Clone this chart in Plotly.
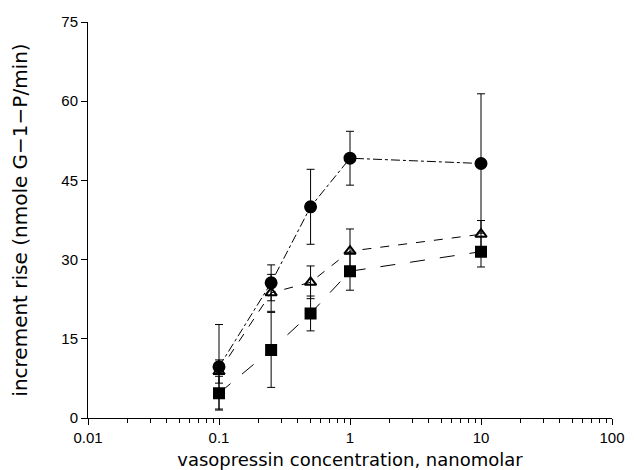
import plotly.graph_objects as go

conc = [0.1, 0.25, 0.5, 1, 10]

circle_y = [9.7, 25.6, 40.0, 49.2, 48.2]
circle_err = [8.0, 3.4, 7.1, 5.1, 13.2]

triangle_y = [8.8, 23.7, 25.7, 31.6, 34.8]
triangle_err = [2.2, 3.5, 3.1, 4.2, 2.6]

square_y = [4.7, 12.9, 19.8, 27.8, 31.5]
square_err = [3.2, 7.1, 3.3, 3.6, 2.9]

y_ticks = [0, 15, 30, 45, 60, 75]
x_ticks = [0.01, 0.1, 1, 10, 100]
x_ticktext = ["0.01", "0.1", "1", "10", "100"]
minor_mult = [2, 3, 4, 5, 6, 7, 8, 9]
minor_vals = [m * d for d in [0.01, 0.1, 1, 10] for m in minor_mult]

fig = go.Figure()

def add_series(y, err, symbol, dash, size):
    fig.add_trace(go.Scatter(
        x=conc, y=y, mode="lines+markers",
        line=dict(color="black", width=1, dash=dash),
        marker=dict(symbol=symbol, size=size, color="black",
                    line=dict(color="black", width=2)),
        error_y=dict(type="data", array=err, visible=True,
                     color="black", thickness=1, width=4),
        showlegend=False,
    ))

add_series(square_y, square_err, "square", "longdash", 10)
add_series(triangle_y, triangle_err, "triangle-up-open", "dash", 10)
add_series(circle_y, circle_err, "circle", "dashdot", 11)

font = "Liberation Sans, Arial, sans-serif"
title_font = "DejaVu Sans, sans-serif"

fig.update_layout(
    width=626, height=462,
    margin=dict(l=80, r=22, t=14, b=52),
    paper_bgcolor="white", plot_bgcolor="white",
    font=dict(family=font, color="black", size=14),
    xaxis=dict(
        type="log", range=[-2, 2], automargin=False,
        tickvals=x_ticks, ticktext=x_ticktext,
        ticklabeloverflow="allow",
        ticks="outside", ticklen=6, tickwidth=1, tickcolor="black",
        minor=dict(tickvals=minor_vals, ticks="outside", ticklen=4,
                   tickwidth=1, tickcolor="black", showgrid=False),
        showline=True, linecolor="black", linewidth=1,
        showgrid=False, zeroline=False,
        tickfont=dict(size=15),
        title=dict(text="vasopressin concentration, nanomolar",
                   font=dict(size=18, family=title_font), standoff=8),
    ),
    yaxis=dict(
        range=[0, 75], tickvals=y_ticks, automargin=False,
        ticks="outside", ticklen=6, tickwidth=1, tickcolor="black",
        showline=True, linecolor="black", linewidth=1,
        showgrid=False, zeroline=False,
        tickfont=dict(size=15),
        title=dict(text="increment rise (nmole G\u22121\u2212P/min)",
                   font=dict(size=20, family=title_font), standoff=28),
    ),
)

fig.write_html("out.html")
